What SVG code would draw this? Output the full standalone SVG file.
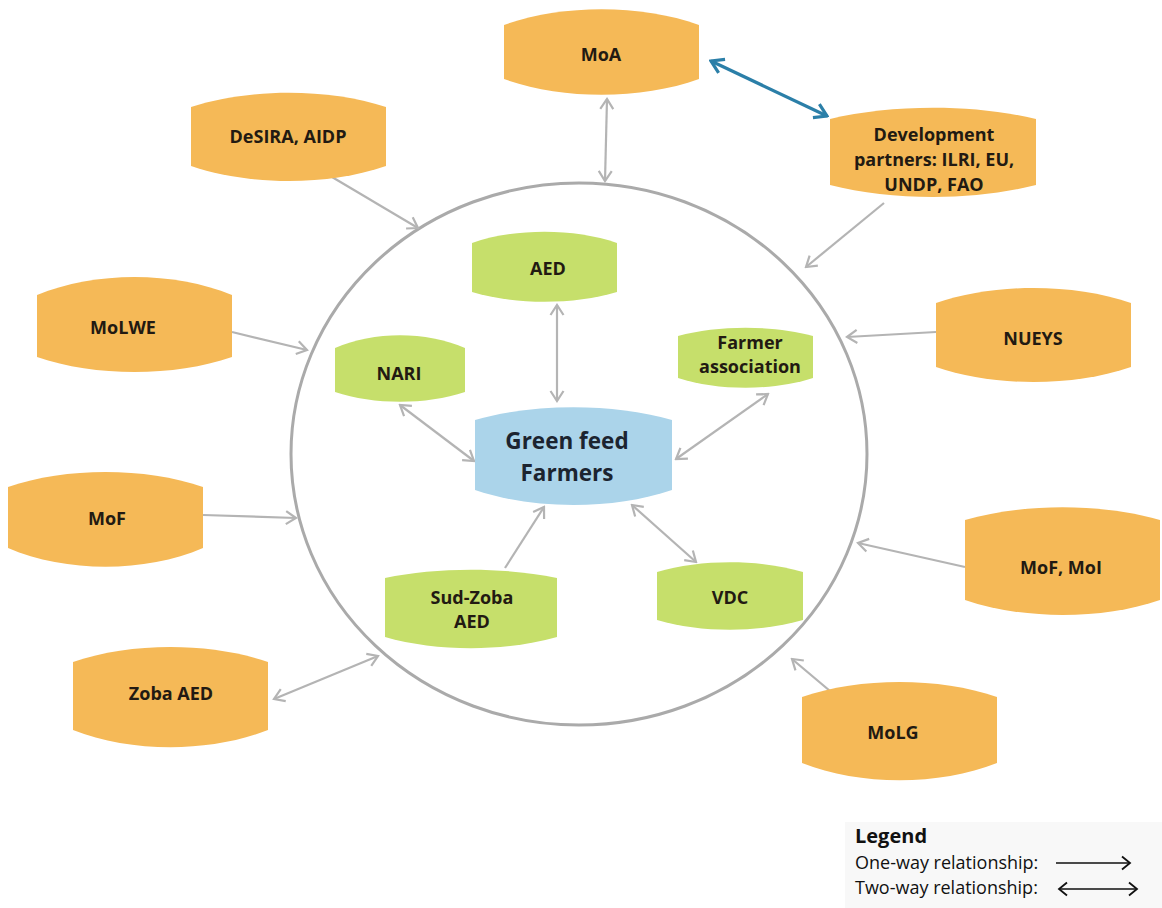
<svg xmlns="http://www.w3.org/2000/svg" width="1162" height="908" viewBox="0 0 1162 908">
<style>
.org{fill:#f5b957}
.grn{fill:#c6df6b}
.blu{fill:#abd4ea}
.lbl{font-family:"Open Sans","Noto Sans",sans-serif;font-weight:bold;font-size:18px;fill:#221a12;text-anchor:middle;dominant-baseline:central}
.big{font-size:22.5px;fill:#1c2430}
.con{fill:none;stroke:#b4b4b4;stroke-width:2.2}
.blue{fill:none;stroke:#2b7fa8;stroke-width:3.2}
.leg{font-family:"Open Sans","Noto Sans",sans-serif;font-size:18px;fill:#111}
.legh{font-weight:bold;font-size:20px}
.legarr{fill:none;stroke:#111;stroke-width:1.6}
</style>
<defs>
<marker id="ag" viewBox="-12 -8 14 16" refX="0" refY="0" markerWidth="14" markerHeight="16" markerUnits="userSpaceOnUse" orient="auto-start-reverse">
<path d="M-10,-6.5 L0,0 L-10,6.5" fill="none" stroke="#b4b4b4" stroke-width="2.2"/>
</marker>
<marker id="ab" viewBox="-14 -9 16 18" refX="0" refY="0" markerWidth="16" markerHeight="18" markerUnits="userSpaceOnUse" orient="auto-start-reverse">
<path d="M-12,-7.5 L0,0 L-12,7.5" fill="none" stroke="#2b7fa8" stroke-width="3.2"/>
</marker>
<marker id="ak" viewBox="-12 -8 14 16" refX="0" refY="0" markerWidth="14" markerHeight="16" markerUnits="userSpaceOnUse" orient="auto-start-reverse">
<path d="M-8,-6.5 L0,0 L-8,6.5" fill="none" stroke="#111" stroke-width="1.8"/>
</marker>
</defs>
<rect width="1162" height="908" fill="#ffffff"/>

<ellipse id="boundary" cx="579" cy="454" rx="288" ry="271" fill="none" stroke="#aaaaaa" stroke-width="3"/>

<g id="connectors">
<line class="con" x1="607" y1="99" x2="605" y2="181" marker-start="url(#ag)" marker-end="url(#ag)"/>
<line class="blue" x1="711" y1="61" x2="827" y2="116" marker-start="url(#ab)" marker-end="url(#ab)"/>
<line class="con" x1="332" y1="177" x2="418" y2="228" marker-end="url(#ag)"/>
<line class="con" x1="884" y1="203" x2="806" y2="267" marker-end="url(#ag)"/>
<line class="con" x1="232" y1="332" x2="307" y2="350" marker-end="url(#ag)"/>
<line class="con" x1="203" y1="515" x2="296" y2="518" marker-end="url(#ag)"/>
<line class="con" x1="274" y1="699" x2="378" y2="656" marker-start="url(#ag)" marker-end="url(#ag)"/>
<line class="con" x1="936" y1="332" x2="847" y2="337" marker-end="url(#ag)"/>
<line class="con" x1="965" y1="567" x2="858" y2="543" marker-end="url(#ag)"/>
<line class="con" x1="830" y1="691" x2="792" y2="659" marker-end="url(#ag)"/>
<line class="con" x1="557" y1="305" x2="557" y2="401" marker-start="url(#ag)" marker-end="url(#ag)"/>
<line class="con" x1="400" y1="405" x2="474" y2="461" marker-start="url(#ag)" marker-end="url(#ag)"/>
<line class="con" x1="768" y1="394" x2="676" y2="459" marker-start="url(#ag)" marker-end="url(#ag)"/>
<line class="con" x1="505" y1="568" x2="544" y2="507" marker-end="url(#ag)"/>
<line class="con" x1="632" y1="505" x2="696" y2="562" marker-start="url(#ag)" marker-end="url(#ag)"/>
</g>

<g id="MoA"><path class="org" d="M504,25 C562,4 641,4 699,25 L699,79 C641,100 562,100 504,79 Z"/><text class="lbl" x="601" y="54">MoA</text></g>
<g id="DevPartners"><path class="org" d="M830,119 C892,104 974,104 1036,119 L1036,185 C974,201 892,201 830,185 Z"/><text class="lbl" x="934" y="134">Development</text><text class="lbl" x="934" y="159">partners: ILRI, EU,</text><text class="lbl" x="934" y="184">UNDP, FAO</text></g>
<g id="DeSIRA"><path class="org" d="M191,107 C250,88 328,88 386,107 L386,166 C328,186 250,186 191,166 Z"/><text class="lbl" x="288" y="136">DeSIRA, AIDP</text></g>
<g id="MoLWE"><path class="org" d="M37,295 C95,271 174,271 232,295 L232,357 C174,377 95,377 37,357 Z"/><text class="lbl" x="123" y="327">MoLWE</text></g>
<g id="MoF"><path class="org" d="M8,487 C66,467 145,467 203,487 L203,548 C145,573 66,573 8,548 Z"/><text class="lbl" x="107" y="518">MoF</text></g>
<g id="ZobaAED"><path class="org" d="M73,662 C131,642 210,642 268,662 L268,730 C210,753 131,753 73,730 Z"/><text class="lbl" x="171" y="693">Zoba AED</text></g>
<g id="NUEYS"><path class="org" d="M936,303 C994,283 1073,283 1131,303 L1131,367 C1073,387 994,387 936,367 Z"/><text class="lbl" x="1033" y="338">NUEYS</text></g>
<g id="MoFMoI"><path class="org" d="M965,520 C1023,503 1102,503 1160,520 L1160,600 C1102,620 1023,620 965,600 Z"/><text class="lbl" x="1061" y="567">MoF, MoI</text></g>
<g id="MoLG"><path class="org" d="M802,697 C860,677 939,677 997,697 L997,763 C939,786 860,786 802,763 Z"/><text class="lbl" x="893" y="732">MoLG</text></g>

<g id="AED"><path class="grn" d="M472,243 C515,228 574,228 617,243 L617,292 C574,305 515,305 472,292 Z"/><text class="lbl" x="548" y="268">AED</text></g>
<g id="NARI"><path class="grn" d="M335,348 C374,331 426,331 465,348 L465,392 C426,405 374,405 335,392 Z"/><text class="lbl" x="399" y="373">NARI</text></g>
<g id="FarmerAssociation"><path class="grn" d="M678,336 C718,325 773,325 813,336 L813,378 C773,391 718,391 678,378 Z"/><text class="lbl" x="750" y="342">Farmer</text><text class="lbl" x="750" y="366">association</text></g>
<g id="GreenFeedFarmers"><path class="blu" d="M475,420 C534,403 613,403 672,420 L672,490 C613,510 534,510 475,490 Z"/><text class="lbl big" x="567" y="440">Green feed</text><text class="lbl big" x="567" y="472">Farmers</text></g>
<g id="SudZobaAED"><path class="grn" d="M385,578 C437,567 505,567 557,578 L557,637 C505,652 437,652 385,637 Z"/><text class="lbl" x="472" y="597">Sud-Zoba</text><text class="lbl" x="472" y="621">AED</text></g>
<g id="VDC"><path class="grn" d="M657,572 C701,559 759,559 803,572 L803,620 C759,633 701,633 657,620 Z"/><text class="lbl" x="730" y="597">VDC</text></g>

<g id="legend">
<rect x="845" y="822" width="317" height="86" fill="#f8f8f8"/>
<text class="leg legh" x="855" y="843">Legend</text>
<text class="leg" x="855" y="869">One-way relationship:</text>
<text class="leg" x="855" y="894">Two-way relationship:</text>
<line class="legarr" x1="1056" y1="863" x2="1130" y2="863" marker-end="url(#ak)"/>
<line class="legarr" x1="1059" y1="889" x2="1137" y2="889" marker-start="url(#ak)" marker-end="url(#ak)"/>
</g>
</svg>
